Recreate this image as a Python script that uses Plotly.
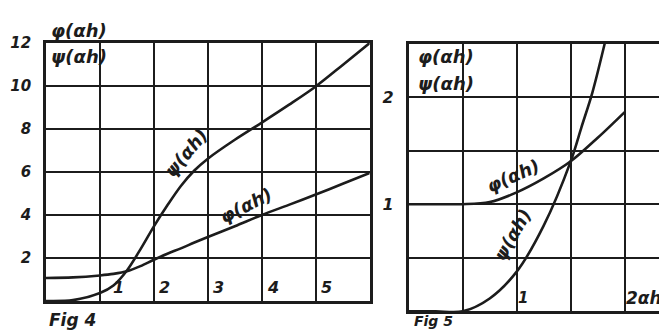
import plotly.graph_objects as go

# ── Datos ─────────────────────────────────────────────────────────────────
# Fig 4
x_fig4 = [0, 0.5, 1, 1.25, 1.5, 1.75, 2, 2.25, 2.5, 2.75, 3, 3.5, 4, 4.5, 5, 5.5, 6]
phi_fig4 = [1.07, 1.1, 1.19, 1.26, 1.38, 1.62, 1.92, 2.2, 2.45, 2.72, 2.98, 3.48, 4.0, 4.47, 4.95, 5.45, 5.95]
psi_fig4 = [0, 0.04, 0.37, 0.72, 1.42, 2.4, 3.47, 4.45, 5.35, 6.07, 6.62, 7.5, 8.3, 9.12, 9.98, 10.98, 12.0]
ytick_fig4 = [0, 2, 4, 6, 8, 10, 12]
ytext_fig4 = ["", "2", "4", "6", "8", "10", "12"]
xlab_fig4 = ["1", "2", "3", "4", "5"]

# Fig 5
x_phi_fig5 = [0, 0.25, 0.5, 0.75, 1, 1.25, 1.5, 1.75, 2]
phi_fig5 = [1.0, 1.0, 1.0, 1.02, 1.11, 1.24, 1.4, 1.62, 1.86]
x_psi_fig5 = [0, 0.25, 0.5, 0.75, 1, 1.25, 1.5, 1.6, 1.7, 1.815]
psi_fig5 = [0, 0, 0, 0.12, 0.37, 0.8, 1.4, 1.72, 2.04, 2.5]
ytick_fig5 = [0, 0.5, 1, 1.5, 2, 2.5]
ytext_fig5 = ["", "", "1", "", "2", ""]

# ── Estilo ────────────────────────────────────────────────────────────────
W, H = 667, 331
INK = "#1c1c1c"
FONT = "DejaVu Sans"


def px(x):
    return x / W


def py(y):
    return 1 - y / H


def hand(size=16):
    return dict(family=FONT, size=size, color=INK, style="italic", weight="bold")


AXIS = dict(
    showgrid=True, gridcolor=INK, gridwidth=1.6,
    showline=True, linecolor=INK, linewidth=2.6, mirror=True,
    zeroline=False, ticks="", automargin=False, fixedrange=True,
)

fig = go.Figure()

curve = dict(mode="lines", line=dict(color=INK, width=2.6, shape="spline", smoothing=0.9),
             hoverinfo="skip", showlegend=False)

fig.add_trace(go.Scatter(x=x_fig4, y=phi_fig4, xaxis="x", yaxis="y", **curve))
fig.add_trace(go.Scatter(x=x_fig4, y=psi_fig4, xaxis="x", yaxis="y", **curve))
fig.add_trace(go.Scatter(x=x_phi_fig5, y=phi_fig5, xaxis="x2", yaxis="y2", **curve))
fig.add_trace(go.Scatter(x=x_psi_fig5, y=psi_fig5, xaxis="x2", yaxis="y2", **curve))

fig.update_layout(
    width=W, height=H,
    paper_bgcolor="white", plot_bgcolor="white",
    margin=dict(l=0, r=0, t=0, b=0),
    xaxis=dict(**AXIS, domain=[px(38), px(361.7)], range=[0, 6], dtick=1,
               showticklabels=False),
    yaxis=dict(**AXIS, domain=[py(293), py(35)], range=[0, 12],
               tickvals=ytick_fig4, ticktext=ytext_fig4, tickfont=hand(15),
               ticklabelstandoff=9),
    xaxis2=dict(**AXIS, domain=[px(400.7), 1], range=[0, (W - 400.7) / 108], dtick=0.5,
                showticklabels=False, anchor="y2"),
    yaxis2=dict(**AXIS, domain=[py(303.3), py(35.5)], range=[0, 2.5], anchor="x2",
                tickvals=ytick_fig5, ticktext=ytext_fig5, tickfont=hand(16),
                ticklabelstandoff=9),
)

ann = []
# etiquetas del eje x, dentro del recuadro
shifts4 = [11, 3, 3, 3, 3]
for lab, s in zip(xlab_fig4, shifts4):
    ann.append(dict(x=int(lab), y=0, xref="x", yref="y", text=lab, xanchor="left",
                    yanchor="bottom", xshift=s, yshift=2, showarrow=False, font=hand(16)))
ann.append(dict(x=1, y=0, xref="x2", yref="y2", text="1", xanchor="left",
                yanchor="bottom", xshift=-1, yshift=2, showarrow=False, font=hand(15)))
ann.append(dict(x=2, y=0, xref="x2", yref="y2", text="2αh", xanchor="left",
                yanchor="bottom", xshift=-1, yshift=1, showarrow=False, font=hand(17)))

# títulos de los ejes
for txt, x, y in [("φ(αh)", 41, 22), ("ψ(αh)", 41, 49), ("φ(αh)", 408, 48), ("ψ(αh)", 408, 75)]:
    ann.append(dict(x=px(x), y=py(y), xref="paper", yref="paper", text=txt,
                    xanchor="left", yanchor="middle", showarrow=False, font=hand(18)))

# rótulos de las curvas
for txt, x, y, ang, xr, yr in [
    ("ψ(αh)", 2.6, 6.9, -50, "x", "y"),
    ("φ(αh)", 3.7, 4.45, -27, "x", "y"),
    ("φ(αh)", 0.97, 1.27, -24, "x2", "y2"),
    ("ψ(αh)", 0.96, 0.72, -60, "x2", "y2"),
]:
    ann.append(dict(x=x, y=y, xref=xr, yref=yr, text=txt, textangle=ang,
                    xanchor="center", yanchor="middle", showarrow=False, font=hand(18)))

# pies de figura
ann.append(dict(x=px(39), y=py(312), xref="paper", yref="paper", text="Fig 4",
                xanchor="left", yanchor="middle", showarrow=False, font=hand(17)))
ann.append(dict(x=px(404), y=py(313), xref="paper", yref="paper", text="Fig 5",
                xanchor="left", yanchor="middle", showarrow=False, font=hand(14)))

fig.update_layout(annotations=ann)
fig.write_html("out.html")
